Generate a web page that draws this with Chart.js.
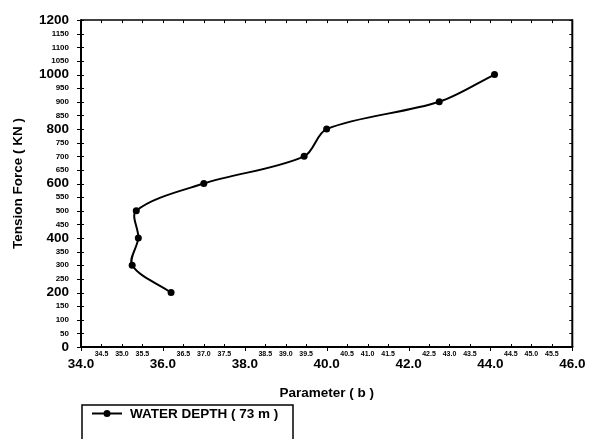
<!DOCTYPE html>
<html><head><meta charset="utf-8">
<script src="https://cdn.jsdelivr.net/npm/chart.js@4/dist/chart.umd.min.js"></script>
<style>html,body{margin:0;padding:0;background:#fff;}canvas{display:block}</style>
</head><body>
<canvas id="c" width="595" height="439"></canvas>
<script>
// ---- data ----
const seriesLabel = 'WATER DEPTH ( 73 m )';
const tensionForce = [200, 300, 400, 500, 600, 700, 800, 900, 1000];
const parameterB = [36.2, 35.25, 35.4, 35.35, 37.0, 39.45, 40.0, 42.75, 44.1];
const xMin = 34, xMax = 46, xStep = 0.5, xMajorStep = 2;
const yMin = 0, yMax = 1200, yStep = 50, yMajorStep = 200;
const xTitle = 'Parameter ( b )';
const yTitle = 'Tension Force ( KN )';

const FAM = '"Liberation Sans", Arial, sans-serif';
const BIG = 13.5, SMALL_Y = 8, SMALL_X = 7;
const isMajor = (v, step) => Math.abs(v / step - Math.round(v / step)) < 1e-6;

const framePlugin = {
  id: 'frame',
  beforeDatasetsDraw(chart) {
    const {ctx, chartArea: a, scales} = chart;
    const xs = scales.x, ys = scales.y;
    ctx.save();
    ctx.strokeStyle = '#000';
    ctx.lineCap = 'butt';
    ctx.lineWidth = 1;
    xs.ticks.forEach(t => {
      const px = Math.round(xs.getPixelForValue(t.value)) + 0.5;
      ctx.beginPath();
      if (isMajor(t.value, xMajorStep)) { ctx.moveTo(px, a.bottom); ctx.lineTo(px, a.bottom + 4); }
      else { ctx.moveTo(px, a.bottom - 3); ctx.lineTo(px, a.bottom); }
      ctx.moveTo(px, a.top); ctx.lineTo(px, a.top + 3);
      ctx.stroke();
    });
    ys.ticks.forEach(t => {
      const py = Math.round(ys.getPixelForValue(t.value)) + 0.5;
      ctx.beginPath();
      ctx.moveTo(a.left - 4, py); ctx.lineTo(a.left + 3, py);
      ctx.moveTo(a.right - 3, py); ctx.lineTo(a.right, py);
      ctx.stroke();
    });
    ctx.lineWidth = 1.5;
    ctx.beginPath(); ctx.moveTo(a.left, a.top); ctx.lineTo(a.right, a.top); ctx.stroke();
    ctx.lineWidth = 2;
    ctx.beginPath(); ctx.moveTo(a.right, a.top - 0.75); ctx.lineTo(a.right, a.bottom); ctx.stroke();
    ctx.beginPath(); ctx.moveTo(a.left, a.top - 0.75); ctx.lineTo(a.left, a.bottom + 1); ctx.stroke();
    ctx.beginPath(); ctx.moveTo(a.left - 1, a.bottom); ctx.lineTo(a.right + 1, a.bottom); ctx.stroke();
    ctx.restore();
  },
  afterDraw(chart) {
    const {ctx} = chart;
    const ds = chart.data.datasets[0];
    ctx.save();
    ctx.strokeStyle = '#000';
    ctx.lineWidth = 1.5;
    ctx.strokeRect(82, 405, 211, 60);
    ctx.lineWidth = 2;
    ctx.beginPath(); ctx.moveTo(92, 413.5); ctx.lineTo(122, 413.5); ctx.stroke();
    ctx.beginPath(); ctx.arc(107, 413.5, 3.5, 0, Math.PI * 2); ctx.fillStyle = '#000'; ctx.fill();
    ctx.font = 'bold ' + BIG + 'px ' + FAM;
    ctx.textBaseline = 'middle';
    ctx.textAlign = 'left';
    ctx.fillText(ds.label, 130, 414);
    ctx.restore();
  }
};

new Chart(document.getElementById('c'), {
  type: 'scatter',
  data: {
    datasets: [{
      label: seriesLabel,
      data: parameterB.map((x, i) => ({x: x, y: tensionForce[i]})),
      showLine: true,
      borderColor: '#000',
      backgroundColor: '#000',
      borderWidth: 2,
      pointRadius: 3.5,
      pointBackgroundColor: '#000',
      pointBorderColor: '#000',
      pointBorderWidth: 0,
      tension: 0.33,
      xAxisID: 'x',
      yAxisID: 'y'
    }]
  },
  options: {
    responsive: false,
    devicePixelRatio: 1,
    animation: false,
    events: [],
    layout: {padding: {top: 12, right: 22.7, bottom: 37.9, left: 0}},
    plugins: {legend: {display: false}, tooltip: {enabled: false}},
    scales: {
      x: {
        type: 'linear', position: 'bottom', weight: 0,
        min: xMin, max: xMax,
        ticks: {
          stepSize: xStep, autoSkip: false, maxRotation: 0, minRotation: 0, padding: 3,
          color: '#000', font: {family: FAM, size: SMALL_X, weight: 'bold'},
          callback: v => isMajor(v, xMajorStep) ? '' : Number(v).toFixed(1)
        },
        grid: {display: false, drawTicks: false},
        border: {display: false},
        afterFit: s => { s.height = 9; }
      },
      x2: {
        type: 'linear', position: 'bottom', weight: 1,
        min: xMin, max: xMax,
        ticks: {
          stepSize: xMajorStep, autoSkip: false, maxRotation: 0, minRotation: 0, padding: 0,
          color: '#000', font: {family: FAM, size: BIG, weight: 'bold'},
          callback: v => Number(v).toFixed(1)
        },
        grid: {display: false, drawTicks: false},
        border: {display: false},
        title: {display: true, text: xTitle, color: '#000', font: {family: FAM, size: BIG, weight: 'bold'}, padding: {top: 0, bottom: 0}},
        afterFit: s => { s.height = 45.1; }
      },
      y: {
        type: 'linear', position: 'left',
        min: yMin, max: yMax,
        ticks: {
          stepSize: yStep, autoSkip: false, padding: 12, color: '#000',
          callback: v => String(v),
          font: ctx => ({family: FAM, size: (ctx && ctx.tick && !isMajor(ctx.tick.value, yMajorStep)) ? SMALL_Y : BIG, weight: 'bold'})
        },
        grid: {display: false, drawTicks: false},
        border: {display: false},
        title: {display: true, text: yTitle, color: '#000', font: {family: FAM, size: BIG, weight: 'bold'}, padding: {top: 10, bottom: 0}},
        afterFit: s => { s.width = 81; }
      }
    }
  },
  plugins: [framePlugin]
});
</script>
</body></html>
